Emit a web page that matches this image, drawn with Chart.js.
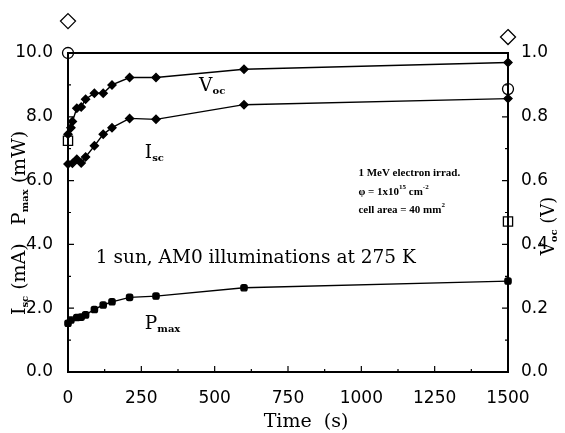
<!DOCTYPE html>
<html>
<head>
<meta charset="utf-8">
<script src="https://cdn.jsdelivr.net/npm/chart.js@4.4.1/dist/chart.umd.min.js"></script>
<style>
  html, body { margin: 0; padding: 0; background: #fff; }
  #wrap { width: 565px; height: 433px; }
</style>
</head>
<body>
<div id="wrap"><canvas id="chart" width="565" height="433"></canvas></div>
<script>
// data
const vocTime = [0, 10, 15, 30, 45, 60, 90, 120, 150, 210, 300, 600, 1500];
const vocValues = [0.745, 0.766, 0.785, 0.827, 0.831, 0.855, 0.874, 0.874, 0.900, 0.923, 0.923, 0.949, 0.970];

const iscTime = [0, 15, 30, 45, 60, 90, 120, 150, 210, 300, 600, 1500];
const iscValues = [6.52, 6.54, 6.67, 6.55, 6.74, 7.09, 7.45, 7.66, 7.95, 7.92, 8.38, 8.57];

const pmaxTime = [0, 10, 30, 45, 60, 90, 120, 150, 210, 300, 600, 1500];
const pmaxValues = [1.53, 1.63, 1.71, 1.72, 1.79, 1.96, 2.10, 2.20, 2.34, 2.38, 2.64, 2.85];

// open reference markers at both ends
const refTime = [0, 1500];
const refDiamond = [11.0, 10.5];
const refCircle = [10.0, 8.87];
const refSquare = [7.25, 4.72];

const xTicks = [0, 250, 500, 750, 1000, 1250, 1500];
const leftTicks = [0, 2, 4, 6, 8, 10];
const rightTicks = [0, 0.2, 0.4, 0.6, 0.8, 1.0];

const pts = (xs, ys) => xs.map((x, i) => ({ x: x, y: ys[i] }));

// texts with subscripts: [text, 0 normal / 1 sub / 2 sup]
const notes = [
  { parts: [['V', 0], ['oc', 1]], t: 447, v: 8.95 },
  { parts: [['I', 0], ['sc', 1]], t: 262, v: 6.85 },
  { parts: [['P', 0], ['max', 1]], t: 262, v: 1.5 },
  { parts: [['1 sun, AM0 illuminations at 275 K', 0]], t: 95, v: 3.58 },
  { parts: [['1 MeV electron irrad.', 0]], t: 990, v: 6.22, small: true },
  { parts: [['\u03c6 = 1x10', 0], ['15', 2], [' cm', 0], ['-2', 2]], t: 990, v: 5.64, small: true },
  { parts: [['cell area = 40 mm', 0], ['2', 2]], t: 990, v: 5.07, small: true }
];

function drawParts(ctx, parts, x, y, big, sub, align) {
  let w = 0;
  parts.forEach(p => {
    ctx.font = p[1] ? sub : big;
    w += ctx.measureText(p[0]).width;
  });
  let cx = align === 'center' ? x - w / 2 : x;
  parts.forEach(p => {
    ctx.font = p[1] ? sub : big;
    let dy = p[1] === 1 ? 5 : (p[1] === 2 ? -5 : 0);
    ctx.fillText(p[0], cx, y + dy);
    cx += ctx.measureText(p[0]).width;
  });
}

const framePlugin = {
  id: 'frame',
  afterDraw(chart) {
    const ctx = chart.ctx;
    const a = chart.chartArea;
    const xs = chart.scales.x, yl = chart.scales.y, yr = chart.scales.y1;
    ctx.save();
    ctx.strokeStyle = '#000';
    ctx.fillStyle = '#000';
    ctx.lineWidth = 2;
    ctx.strokeRect(a.left, a.top, a.right - a.left, a.bottom - a.top);

    // inward ticks
    ctx.lineWidth = 1.2;
    ctx.beginPath();
    for (let t = 0; t <= 1500; t += 125) {
      const px = xs.getPixelForValue(t);
      const len = t % 250 === 0 ? 6 : 3;
      ctx.moveTo(px, a.bottom); ctx.lineTo(px, a.bottom - len);
    }
    for (let v = 0; v <= 10; v += 1) {
      const py = yl.getPixelForValue(v);
      const len = v % 2 === 0 ? 6 : 3;
      ctx.moveTo(a.left, py); ctx.lineTo(a.left + len, py);
    }
    for (let k = 0; k <= 10; k++) {
      const py = yr.getPixelForValue(k / 10);
      const len = k % 2 === 0 ? 6 : 3;
      ctx.moveTo(a.right, py); ctx.lineTo(a.right - len, py);
    }
    ctx.stroke();

    // open diamonds sit above the plot, Chart.js skips them, so draw here
    ctx.lineWidth = 1.3;
    refTime.forEach((t, i) => {
      const px = xs.getPixelForValue(t);
      const py = yl.getPixelForValue(refDiamond[i]);
      const r = 7.5;
      ctx.beginPath();
      ctx.moveTo(px, py - r); ctx.lineTo(px + r, py);
      ctx.lineTo(px, py + r); ctx.lineTo(px - r, py);
      ctx.closePath();
      ctx.stroke();
    });

    ctx.textBaseline = 'middle';
    ctx.textAlign = 'left';

    // x title
    drawParts(ctx, [['Time  (s)', 0]], 306, 422, '19px "DejaVu Serif"', '', 'center');

    // left title
    ctx.save();
    ctx.translate(20, 223);
    ctx.rotate(-Math.PI / 2);
    drawParts(ctx, [['I', 0], ['sc', 1], [' (mA)   P', 0], ['max', 1], [' (mW)', 0]], 0, 0,
      '19px "DejaVu Serif"', 'bold 10px "DejaVu Serif"', 'center');
    ctx.restore();

    // right title
    ctx.save();
    ctx.translate(549, 226);
    ctx.rotate(-Math.PI / 2);
    drawParts(ctx, [['V', 0], ['oc', 1], [' (V)', 0]], 0, 0,
      '18px "DejaVu Serif"', 'bold 10px "DejaVu Serif"', 'center');
    ctx.restore();

    // notes inside the plot
    notes.forEach(n => {
      const px = xs.getPixelForValue(n.t);
      const py = yl.getPixelForValue(n.v);
      if (n.small) {
        drawParts(ctx, n.parts, px, py, 'bold 11px "Liberation Serif"', 'bold 7px "Liberation Serif"', 'left');
      } else {
        drawParts(ctx, n.parts, px, py, '18.5px "DejaVu Serif"', 'bold 10px "DejaVu Serif"', 'left');
      }
    });
    ctx.restore();
  }
};

const filled = (label, data, axis, style, r) => ({
  label: label,
  data: data,
  yAxisID: axis,
  borderColor: '#000',
  backgroundColor: '#000',
  borderWidth: 1.4,
  pointStyle: style,
  pointRadius: r,
  pointBackgroundColor: '#000',
  pointBorderColor: '#000',
  tension: 0,
  clip: false
});

const open = (label, data, style, r) => ({
  label: label,
  data: data,
  yAxisID: 'y',
  showLine: false,
  pointStyle: style,
  pointRadius: r,
  pointBorderWidth: 1.3,
  pointBackgroundColor: 'rgba(0,0,0,0)',
  pointBorderColor: '#000',
  clip: false
});

const tickFont = { family: 'DejaVu Sans', size: 17 };

new Chart(document.getElementById('chart'), {
  type: 'line',
  data: {
    datasets: [
      filled('Voc', pts(vocTime, vocValues), 'y1', 'rectRot', 4),
      filled('Isc', pts(iscTime, iscValues), 'y', 'rectRot', 4),
      filled('Pmax', pts(pmaxTime, pmaxValues), 'y', 'rectRounded', 3.6),
      open('ref circle', pts(refTime, refCircle), 'circle', 5.5),
      open('ref square', pts(refTime, refSquare), 'rect', 6.5)
    ]
  },
  options: {
    responsive: false,
    animation: false,
    devicePixelRatio: 1,
    layout: { padding: { top: 53, left: 0, right: 0, bottom: 0 } },
    plugins: { legend: { display: false }, tooltip: { enabled: false } },
    scales: {
      x: {
        type: 'linear',
        min: 0, max: 1500,
        grid: { display: false },
        border: { display: false },
        afterBuildTicks: s => { s.ticks = xTicks.map(v => ({ value: v })); },
        ticks: { color: '#000', padding: 8, font: tickFont, maxRotation: 0,
          callback: v => String(v) },
        afterFit: s => { s.height = 61; }
      },
      y: {
        position: 'left',
        min: 0, max: 10,
        grid: { display: false },
        border: { display: false },
        afterBuildTicks: s => { s.ticks = leftTicks.map(v => ({ value: v })); },
        ticks: { color: '#000', padding: 7, font: tickFont,
          callback: v => v.toFixed(1) },
        afterFit: s => { s.width = 68; }
      },
      y1: {
        position: 'right',
        min: 0, max: 1,
        grid: { display: false },
        border: { display: false },
        afterBuildTicks: s => { s.ticks = rightTicks.map(v => ({ value: v })); },
        ticks: { color: '#000', padding: 5, font: tickFont,
          callback: v => v.toFixed(1) },
        afterFit: s => { s.width = 57; }
      }
    }
  },
  plugins: [framePlugin]
});
</script>
</body>
</html>
